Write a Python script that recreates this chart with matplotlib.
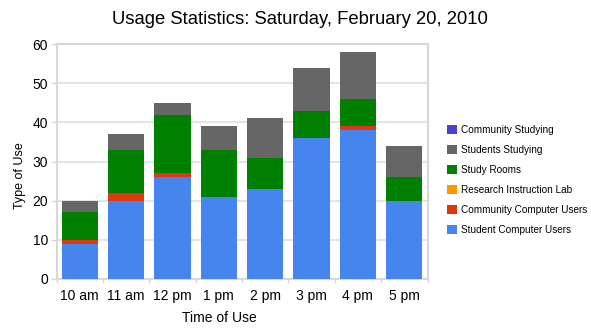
import matplotlib
matplotlib.use("Agg")
import matplotlib.pyplot as plt
import numpy as np

plt.rcParams['font.family'] = ['Liberation Sans', 'DejaVu Sans']

hours = ["10 am", "11 am", "12 pm", "1 pm", "2 pm", "3 pm", "4 pm", "5 pm"]
student_computer = [9, 20, 26, 21, 23, 36, 38, 20]
community_computer = [1, 2, 1, 0, 0, 0, 1, 0]
research_lab = [0, 0, 0, 0, 0, 0, 0, 0]
study_rooms = [7, 11, 15, 12, 8, 7, 7, 6]
students_studying = [3, 4, 3, 6, 10, 11, 12, 8]
community_studying = [0, 0, 0, 0, 0, 0, 0, 0]

series = [
    ("Student Computer Users", student_computer, "#4684EE"),
    ("Community Computer Users", community_computer, "#DC3912"),
    ("Research Instruction Lab", research_lab, "#FF9900"),
    ("Study Rooms", study_rooms, "#008000"),
    ("Students Studying", students_studying, "#666666"),
    ("Community Studying", community_studying, "#4942CC"),
]

W, H = 591, 332
fig = plt.figure(figsize=(W / 100, H / 100), dpi=100)
ax_l, ax_r, ax_t, ax_b = 56.5, 427.5, 44, 279
ax = fig.add_axes([ax_l / W, 1 - ax_b / H, (ax_r - ax_l) / W, (ax_b - ax_t) / H])

x = np.arange(len(hours))
bottom = np.zeros(len(hours))
handles = []
for name, vals, color in series:
    vals = np.array(vals, dtype=float)
    h = ax.bar(x, vals, bottom=bottom, width=0.78, color=color, label=name,
               zorder=3, linewidth=0)
    handles.append(h)
    bottom += vals

ax.set_xlim(-0.5, len(hours) - 0.5)
ax.set_ylim(0, 60)
ax.set_yticks(range(0, 61, 10))
ax.set_xticks(x)
ax.set_xticklabels(hours)
ax.set_xticks(np.arange(-0.5, len(hours)), minor=True)
ax.tick_params(axis='x', which='major', length=0, labelsize=10, pad=7)
ax.tick_params(axis='x', which='minor', length=3, color="#d8d8d8", width=1)
ax.tick_params(axis='y', length=4, color="#d8d8d8", width=1, labelsize=10, pad=2)
ax.grid(axis='y', color="#e4e4e4", linewidth=1.5, zorder=0)
for s in ax.spines.values():
    s.set_color("#d8d8d8")
    s.set_linewidth(1.5)

ax.set_xlabel("Time of Use", fontsize=10)
ax.xaxis.set_label_coords(0.44, -0.135)
ax.set_ylabel("Type of Use", fontsize=9)
ax.yaxis.set_label_coords(-0.082, 0.44)
fig.text(300 / W, 1 - 19 / H, "Usage Statistics: Saturday, February 20, 2010",
         fontsize=13.3, ha='center', va='center')

leg = ax.legend(handles=handles[::-1], loc='center left',
                bbox_to_anchor=(447 / W, 1 - 180 / H),
                bbox_transform=fig.transFigure, frameon=False,
                fontsize=7.2, handlelength=1.0, handleheight=1.0,
                handletextpad=0.4, labelspacing=1.0, borderaxespad=0,
                borderpad=0)

fig.savefig("out.png", dpi=100)
